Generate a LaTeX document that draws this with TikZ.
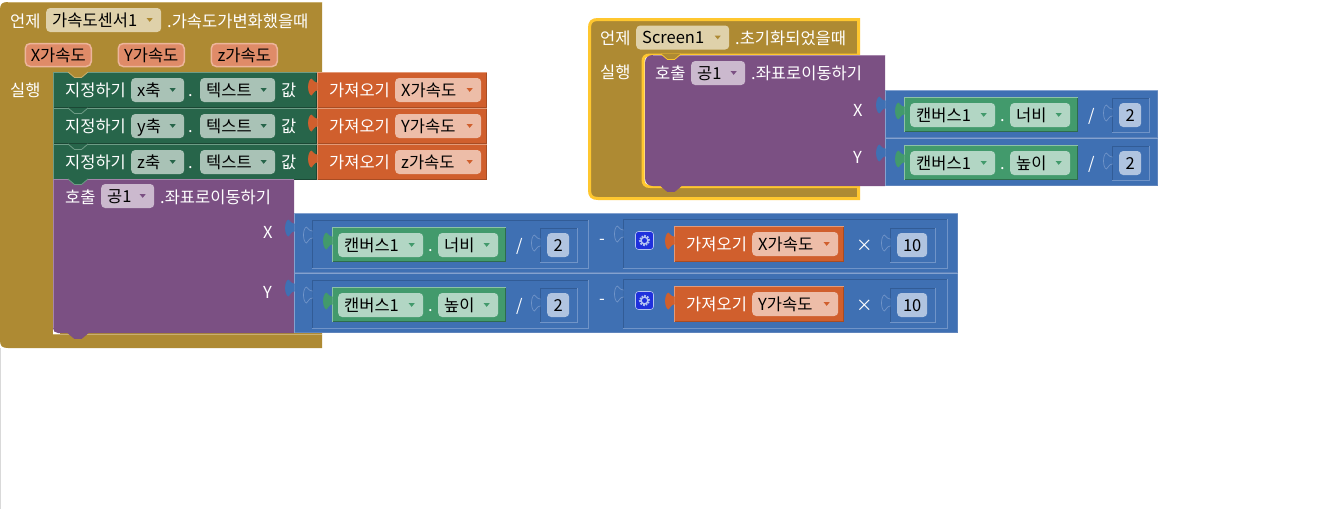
\documentclass[tikz,border=0pt]{standalone}
\usepackage{fontspec}
\setmainfont{Noto Sans CJK KR}
\definecolor{goldblk}{HTML}{AE8A33}
\definecolor{goldedge}{HTML}{C9AF6E}
\definecolor{goldfield}{HTML}{DFD1AA}
\definecolor{selyellow}{HTML}{FFC72F}
\definecolor{setblk}{HTML}{27654A}
\definecolor{setedge}{HTML}{6E9C86}
\definecolor{setdark}{HTML}{1B4734}
\definecolor{setfield}{HTML}{A9C2B6}
\definecolor{getblk}{HTML}{D05F2D}
\definecolor{getedge}{HTML}{E39A78}
\definecolor{getdark}{HTML}{A84C23}
\definecolor{getfield}{HTML}{EDBDA8}
\definecolor{paramfill}{HTML}{DF8B68}
\definecolor{paramedge}{HTML}{EDB59B}
\definecolor{callblk}{HTML}{7B5083}
\definecolor{calledge}{HTML}{A585AB}
\definecolor{callfield}{HTML}{CBB9CE}
\definecolor{mathblk}{HTML}{3F70B3}
\definecolor{mathedge}{HTML}{84A2CF}
\definecolor{mathdark}{HTML}{5F84BC}
\definecolor{sockdark}{HTML}{325C96}
\definecolor{socklight}{HTML}{7094C8}
\definecolor{mathfield}{HTML}{B0C4E0}
\definecolor{cvsblk}{HTML}{429A6C}
\definecolor{cvsedge}{HTML}{8DC2A6}
\definecolor{cvsdark}{HTML}{2E6C4C}
\definecolor{cvsfield}{HTML}{B2D6C4}
\definecolor{gearblue}{HTML}{1F30DC}
\definecolor{gearlight}{HTML}{B4C3F2}
\tikzset{
    wlabel/.style={text=white,anchor=west,inner sep=0pt,text height=12.6pt,text depth=0pt},
    field/.style={rounded corners=4pt,anchor=west,text=black,inner xsep=6pt,inner ysep=5.7pt,text height=12.6pt,text depth=0pt,align=left},
    drop/.style 2 args={fill=#1,path picture={
        \fill[#2,sharp corners] ([xshift=-14.5pt,yshift=1.8pt]path picture bounding box.east) -- ++(6pt,0pt) -- ++(-3pt,-3.6pt) -- cycle;}},
    param/.style={rounded corners=5pt,anchor=west,fill=paramfill,draw=paramedge,line width=1.5pt,text=black,inner xsep=4pt,inner ysep=5.2pt,text height=12.6pt,text depth=0pt,minimum width=66pt},
}
% block rectangle with its light and dark rims
\newcommand{\blockbox}[7]{
    \fill[#5] (#1,#2) rectangle (#3,#4);
    \draw[#7,line width=0.8pt] (#3-0.5,#2) -- (#3-0.5,#4-0.5) -- (#1,#4-0.5);
    \draw[#6,line width=1pt] (#1+0.5,#4) -- (#1+0.5,#2+0.5) -- (#3,#2+0.5);
}
% puzzle tab, right edge at x, top at y
\newcommand{\puzzletab}[4]{
    \fill[#3] (#1,#2+4) .. controls (#1-4,#2+4) and (#1-4,#2+1) .. (#1-6,#2)
        .. controls (#1-10,#2+1) and (#1-10,#2+15) .. (#1-6,#2+16)
        .. controls (#1-4,#2+15) and (#1-4,#2+11) .. (#1,#2+11) -- cycle;
    \draw[#4,line width=0.7pt] (#1,#2+4) .. controls (#1-4,#2+4) and (#1-4,#2+1) .. (#1-6,#2)
        .. controls (#1-10,#2+1) and (#1-10,#2+15) .. (#1-6,#2+16)
        .. controls (#1-4,#2+15) and (#1-4,#2+11) .. (#1,#2+11);
}
% empty socket in a blue block
\newcommand{\socket}[4]{
    \draw[sockdark,line width=1pt] (#1,#4) -- (#1,#2) -- (#3,#2);
    \draw[socklight,line width=1pt] (#3,#2) -- (#3,#4) -- (#1,#4);
    \puzzletab{#1+0.5}{#2+7}{mathblk}{socklight}
}
% connector dent under a block
\newcommand{\notchat}[4]{
    \fill[#3] (#1,#2) -- (#1+6.5,#2+5.5) -- (#1+13.5,#2+5.5) -- (#1+20,#2) -- cycle;
    \draw[#4,line width=0.8pt] (#1,#2) -- (#1+6.5,#2+5.5) -- (#1+13.5,#2+5.5) -- (#1+20,#2);
}
% orange getter block
\newcommand{\getblock}[5]{
    \blockbox{#2}{#3}{#2+170}{#3+36}{getblk}{getedge}{getdark}
    \puzzletab{#2+0.5}{#3+7}{getblk}{getblk}
    \node[wlabel] (#1-lbl) at (#2+12,#3+18) {가져오기};
    \node[field,drop={getfield}{getblk},text width=74pt] (#1-var) at (#2+78,#3+18) {#4#5};
}
% green canvas block, then / and the number 2
\newcommand{\canvashalf}[2]{
    \blockbox{332}{227}{506}{262}{cvsblk}{cvsedge}{cvsdark}
    \puzzletab{332.5}{233}{cvsblk}{cvsblk}
    \node[field,drop={cvsfield}{cvsblk},text width=73pt] (#1-cvs) at (338,245) {캔버스1};
    \node[wlabel] (#1-dot) at (428,245) {.};
    \node[field,drop={cvsfield}{cvsblk},text width=48pt] (#1-prop) at (438,245) {#2};
    \node[wlabel] (#1-div) at (516,245) {/};
    \socket{540}{228}{577}{262}
    \node[field,fill=mathfield,inner xsep=0pt,minimum width=22pt,align=center] (#1-two) at (547,245) {2};
}
% minus, gear, getter, times, 10
\newcommand{\offsethalf}[2]{
    \node[wlabel] (#1-minus) at (599,238) {-};
    \socket{623}{219}{947}{268}
    \node[rounded corners=3pt,fill=gearblue,draw=gearlight,line width=0.6pt,minimum size=18pt,inner sep=0pt] (#1-gear) at (644.5,240.5) {};
    \draw[gearlight,line width=2pt,dash pattern=on 1.6pt off 1.2pt] (#1-gear.center) circle (4.6pt);
    \draw[gearlight,line width=1.4pt] (#1-gear.center) circle (3.4pt);
    \getblock{#1-get}{674}{226}{#2}{가속도}
    \node[wlabel] (#1-times) at (856,245) {×};
    \socket{890}{228}{935}{262}
    \node[field,fill=mathfield,inner xsep=0pt,minimum width=30pt,align=center] (#1-ten) at (897,245) {10};
}
\begin{document}
\begin{tikzpicture}[x=1pt,y=-1pt,font=\fontsize{16.5}{19}\selectfont]
    \useasboundingbox (0,0) rectangle (1343,509);
    \fill[white] (0,0) rectangle (1343,509);
    \draw[black!15,line width=1pt] (0.5,348) -- (0.5,509);

    % accelerometer event
    \fill[goldblk] (322,2) -- (322,72) -- (53,72) -- (53,333) -- (322,333) -- (322,348) -- (8,348)
        .. controls (2,348) and (0,346) .. (0,340) -- (0,10) .. controls (0,4) and (2,2) .. (8,2) -- cycle;
    \draw[goldedge,line width=1pt] (8,2.5) -- (322,2.5);
    \fill[white] (53,327) rectangle (60,334);
    \draw[goldedge,line width=1pt] (53,334.5) -- (322,334.5);
    \node[wlabel] (ev-when) at (10,21) {언제};
    \node[field,drop={goldfield}{goldblk},text width=103pt] (ev-sensor) at (46,20) {가속도센서1};
    \node[wlabel] (ev-name) at (167,21) {.가속도가변화했을때};
    \node[param] (ev-x) at (24.5,55) {X가속도};
    \node[param] (ev-y) at (117.5,55) {Y가속도};
    \node[param] (ev-z) at (210.5,55) {z가속도};
    \node[wlabel] (ev-do) at (10,90) {실행};
    \foreach \ty/\low/\up/\prev/\prevedge in {72/x/X/goldblk/goldedge,108/y/Y/setblk/setedge,144/z/z/setblk/setedge}{
        \blockbox{53}{\ty}{317}{\ty+36}{setblk}{setedge}{setdark}
        \node[wlabel] (set-\low) at (65,\ty+18) {지정하기};
        \node[field,drop={setfield}{setblk},text width=41pt] (ax-\low) at (131,\ty+18) {\low 축};
        \node[wlabel] (dot-\low) at (188,\ty+18) {.};
        \node[field,drop={setfield}{setblk},text width=63pt] (txt-\low) at (200,\ty+18) {텍스트};
        \node[wlabel] (val-\low) at (281,\ty+18) {값};
        \getblock{get-\low}{317}{\ty}{\up}{가속도}
        \notchat{68}{\ty}{\prev}{\prevedge}
    }

    % call block
    \fill[callblk] (53,179) -- (294,179) -- (294,333) -- (58,333) .. controls (55,333) and (53,331) .. (53,328) -- cycle;
    \draw[calledge,line width=1pt] (53.5,328) -- (53.5,179.5) -- (294,179.5);
    \notchat{68}{179}{setblk}{setedge}
    \notchat{68}{333}{callblk}{callblk}
    \node[wlabel] (call-lbl) at (65,197) {호출};
    \node[field,drop={callfield}{callblk},text width=41pt] (call-ball) at (101,196) {공1};
    \node[wlabel] (call-name) at (160,197) {.좌표로이동하기};
    \node[wlabel] (call-x) at (263,232) {X};
    \node[wlabel] (call-y) at (263,292) {Y};

    % big expression rows
    \foreach \n/\dy/\lbl/\up in {1/0/너비/X,2/60/높이/Y}{
        \begin{scope}[shift={(0,\dy)}]
            \blockbox{294}{213}{958}{273}{mathblk}{mathedge}{mathdark}
            \puzzletab{294.5}{220}{mathblk}{mathblk}
            \socket{312}{220}{588}{268}
            \canvashalf{a\n}{\lbl}
            \offsethalf{b\n}{\up}
        \end{scope}
    }

    % screen event
    \filldraw[fill=goldblk,draw=selyellow,line width=3pt] (858.5,19.5) -- (858.5,55) -- (650,55) .. controls (645,55) and (643,57) .. (643,62)
        -- (643,179) .. controls (643,184) and (645,186.5) .. (650,186.5) -- (858.5,186.5) -- (858.5,198.5) -- (598,198.5)
        .. controls (592,198.5) and (589.5,196) .. (589.5,190) -- (589.5,28) .. controls (589.5,22) and (592,19.5) .. (598,19.5) -- cycle;
    \fill[callblk] (653,55) -- (885,55) -- (885,186) -- (653,186) .. controls (648,186) and (645,183) .. (645,178)
        -- (645,63) .. controls (645,58) and (648,55) .. (653,55) -- cycle;
    \draw[calledge,line width=1pt] (885,55.5) -- (653,55.5);
    \notchat{661}{54}{goldblk}{selyellow}
    \notchat{661}{186}{callblk}{callblk}
    \node[wlabel] (scr-when) at (600,38) {언제};
    \node[field,drop={goldfield}{goldblk},text width=81pt] (scr-name) at (636,37.5) {Screen1};
    \node[wlabel] (scr-init) at (735,38) {.초기화되었을때};
    \node[wlabel] (scr-do) at (600,72) {실행};
    \node[wlabel] (scr-call) at (655,73) {호출};
    \node[field,drop={callfield}{callblk},text width=42pt] (scr-ball) at (691,73) {공1};
    \node[wlabel] (scr-move) at (751,73) {.좌표로이동하기};
    \node[wlabel] (scr-x) at (853,110) {X};
    \node[wlabel] (scr-y) at (853,157) {Y};
    \foreach \n/\ty/\lbl in {1/90/너비,2/138/높이}{
        \blockbox{885}{\ty}{1158}{\ty+47.5}{mathblk}{mathedge}{mathdark}
        \puzzletab{885.5}{\ty+7}{mathblk}{mathblk}
        \begin{scope}[shift={(572,\ty-220)}]
            \canvashalf{c\n}{\lbl}
        \end{scope}
    }
\end{tikzpicture}
\end{document}
